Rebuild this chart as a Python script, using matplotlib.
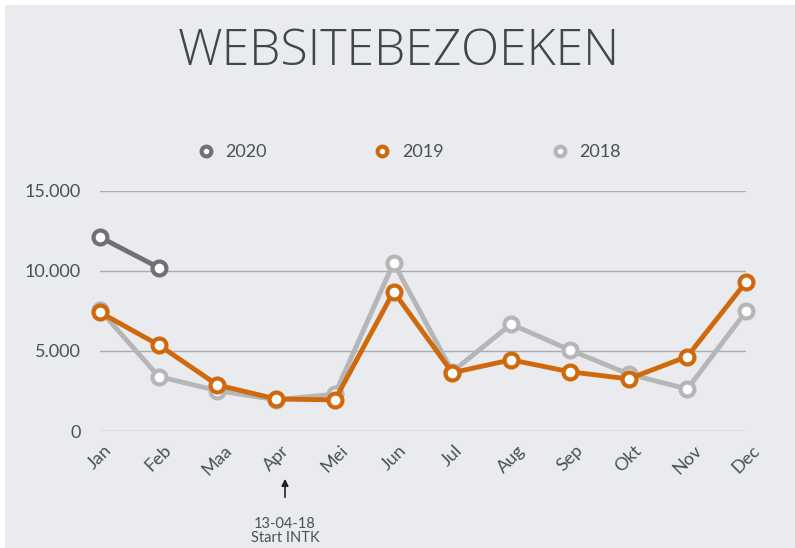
import matplotlib.pyplot as plt
from matplotlib.patches import Rectangle
from matplotlib.lines import Line2D

# Data
months = ["Jan", "Feb", "Maa", "Apr", "Mei", "Jun", "Jul", "Aug", "Sep", "Okt", "Nov", "Dec"]
visits_2020 = [12100, 10200]
visits_2019 = [7400, 5370, 2870, 2000, 1940, 8700, 3640, 4440, 3700, 3250, 4650, 9300]
visits_2018 = [7550, 3400, 2520, 1950, 2300, 10500, 3700, 6670, 5060, 3560, 2620, 7460]
yticks = [0, 5000, 10000, 15000]
ytick_labels = ["0", "5.000", "10.000", "15.000"]

c2020 = "#6f7174"
c2019 = "#d0690c"
c2018 = "#b5b6b8"
txt = "#4a5058"
font = "Lato"

fig = plt.figure(figsize=(7.95, 5.48), dpi=100)
fig.patch.set_facecolor("white")
fig.patches.append(Rectangle((5 / 795, 0), 1, 1 - 5 / 548, transform=fig.transFigure,
                             facecolor="#e9ebee", edgecolor="none", zorder=-10))

ax = fig.add_axes([100 / 795, 1 - 431 / 548, 646 / 795, 240.3 / 548])
ax.set_facecolor("none")
x = list(range(len(months)))

for vals, col, z in [(visits_2018, c2018, 2), (visits_2019, c2019, 3), (visits_2020, c2020, 4)]:
    ax.plot(x[:len(vals)], vals, color=col, lw=3.5, marker="o", ms=10,
            mfc="white", mec=col, mew=3, zorder=z, clip_on=False)

ax.set_xlim(0, 11)
ax.set_ylim(0, 15000)
ax.set_yticks(yticks)
ax.set_yticklabels(ytick_labels, fontname=font, fontsize=13, color=txt)
ax.set_xticks(x)
ax.set_xticklabels(months, rotation=45, ha="center", va="top",
                   fontname=font, fontsize=13, color=txt)
ax.tick_params(axis="y", length=0, pad=14)
ax.tick_params(axis="x", length=0, pad=8)
ax.grid(axis="y", color="#a9abae", lw=1)
ax.set_axisbelow(True)
for s in ax.spines.values():
    s.set_visible(False)

# Title
fig.text(399 / 795, 1 - 52 / 548, "WEBSITEBEZOEKEN", ha="center", va="center",
         fontname="Open Sans", fontweight="light", fontsize=36, color="#41464c")

# Legend
handles = [Line2D([], [], color=c, lw=0, marker="o", ms=7, mfc="white", mec=c, mew=3)
           for c in (c2020, c2019, c2018)]
fig.legend(handles, ["2020", "2019", "2018"], loc="center", ncol=3,
           bbox_to_anchor=(406 / 795, 1 - 152 / 548), frameon=False,
           prop={"family": font, "size": 13}, labelcolor=txt,
           columnspacing=5.6, handletextpad=0.3, handlelength=1.6)

# Annotation below Apr
ax.annotate("", xy=(285 / 795, 1 - 476 / 548), xytext=(285 / 795, 1 - 500 / 548),
            xycoords="figure fraction", textcoords="figure fraction",
            annotation_clip=False,
            arrowprops=dict(arrowstyle="-|>", color="#222222", lw=1.2, mutation_scale=10))
fig.text(285 / 795, 1 - 531 / 548, "13-04-18\nStart INTK", ha="center", va="center",
         fontname=font, fontsize=10.5, color=txt, linespacing=1.05)

fig.savefig("out.png", dpi=100)
